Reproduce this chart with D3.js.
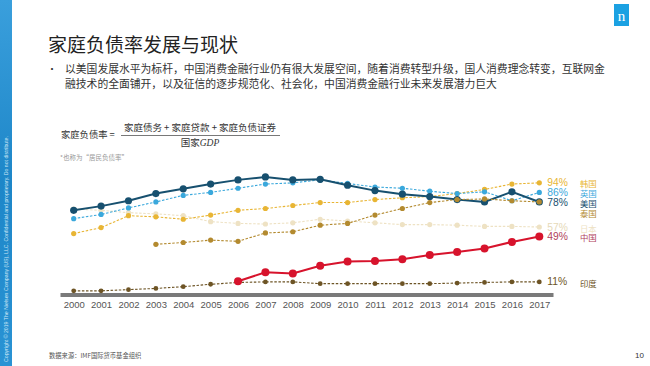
<!DOCTYPE html>
<html>
<head>
<meta charset="utf-8">
<script src="https://cdn.jsdelivr.net/npm/d3@7"></script>
<style>
  body { margin: 0; background: #fff; }
  svg { display: block; font-family: "Noto Sans CJK SC", "Liberation Sans", sans-serif; }
</style>
</head>
<body>
<svg width="650" height="366"></svg>
<script>
// years on the x axis
const years = d3.range(2000, 2018).map(String)

// household debt / GDP, %
const us = [71, 74.5, 79, 85, 89, 93, 96.5, 99, 96.5, 97, 92, 87.5, 84.5, 82.5, 80, 78, 86.5, 78]
const uk = [64, 67.5, 73, 78, 83.5, 86, 89.5, 93, 94, 96.5, 93.5, 90.5, 89.5, 87, 85, 86.5, 79, 86]
const korea = [51.5, 56.5, 66.5, 65.5, 63.5, 67, 71, 72.5, 75, 77.5, 77.5, 80, 81.5, 82.5, 85, 88.5, 93, 94]
const japan = [72, 71, 69, 68, 66.5, 61.5, 60, 59.5, 60.5, 63.5, 62, 60.5, 59, 59, 58.5, 57.5, 57.5, 57]
const thailand = [null, null, null, 42.5, 44, 46, 45, 52, 53, 58.5, 60, 67, 72.5, 77.5, 80, 80.5, 79, 78]
const china = [null, null, null, null, null, null, 11.5, 19, 18, 24.5, 28, 28.5, 30, 33.5, 36, 39, 44.5, 49]
const india = [3.5, 3.5, 4.5, 5.5, 7, 9, 10.5, 11, 11, 9.5, 9.5, 9.5, 9.5, 9.5, 10, 10.5, 11, 11]

const series = [
  { name: "日本", values: japan, color: "#eee2c4", solid: false, r: 2.6, label: "57%" },
  { name: "韩国", values: korea, color: "#e8b534", solid: false, r: 2.6, label: "94%" },
  { name: "英国", values: uk, color: "#3aa8dc", solid: false, r: 2.6, label: "86%" },
  { name: "美国", values: us, color: "#17506f", solid: true, r: 3.6, label: "78%" },
  { name: "泰国", values: thailand, color: "#b38a2f", solid: false, r: 2.6, label: "" },
  { name: "印度", values: india, color: "#6d5425", solid: false, r: 2.4, label: "11%" },
  { name: "中国", values: china, color: "#d7132c", solid: true, r: 4, label: "49%" },
]

const svg = d3.select("svg")

// left blue strip
const defs = svg.append("defs")
const grad = defs.append("linearGradient").attr("id", "strip")
  .attr("x1", 0).attr("y1", 0).attr("x2", 0).attr("y2", 1)
grad.append("stop").attr("offset", 0).attr("stop-color", "#3a9fdc")
grad.append("stop").attr("offset", 0.5).attr("stop-color", "#1d86c8")
grad.append("stop").attr("offset", 1).attr("stop-color", "#2a93d4")
svg.append("rect").attr("x", 0).attr("y", 0).attr("width", 12).attr("height", 366)
  .attr("fill", "url(#strip)")
svg.append("text")
  .attr("transform", "translate(8,362) rotate(-90)")
  .attr("font-size", 5.2)
  .attr("font-family", "Liberation Sans")
  .attr("fill", "#cfe8f7")
  .text("Copyright © 2019 The Nielsen Company (US), LLC. Confidential and proprietary. Do not distribute.")

// logo
svg.append("rect").attr("x", 614).attr("y", 4).attr("width", 15).attr("height", 22).attr("fill", "#1ba1e2")
svg.append("text").attr("x", 621.5).attr("y", 21).attr("text-anchor", "middle")
  .attr("font-size", 15).attr("font-family", "Liberation Serif").attr("fill", "#fff").text("n")

// title + bullet
svg.append("text").attr("x", 48).attr("y", 52).attr("font-size", 19).attr("fill", "#222")
  .text("家庭负债率发展与现状")
svg.append("text").attr("x", 47).attr("y", 73).attr("font-size", 10).attr("fill", "#333").text("•")
const bullet = svg.append("text").attr("font-size", 10.8).attr("fill", "#333")
bullet.append("tspan").attr("x", 65).attr("y", 73)
  .text("以美国发展水平为标杆，中国消费金融行业仍有很大发展空间，随着消费转型升级，国人消费理念转变，互联网金")
bullet.append("tspan").attr("x", 65).attr("y", 88)
  .text("融技术的全面铺开，以及征信的逐步规范化、社会化，中国消费金融行业未来发展潜力巨大")

// formula
svg.append("text").attr("x", 61).attr("y", 138).attr("font-size", 9.3).attr("fill", "#333").text("家庭负债率 =")
svg.append("text").attr("x", 200).attr("y", 131).attr("text-anchor", "middle").attr("font-size", 9.5)
  .attr("fill", "#333").text("家庭债务 + 家庭贷款 + 家庭负债证券")
svg.append("line").attr("x1", 121).attr("x2", 280).attr("y1", 135.5).attr("y2", 135.5)
  .attr("stroke", "#555").attr("stroke-width", 0.8)
const den = svg.append("text").attr("x", 200).attr("y", 146).attr("text-anchor", "middle")
  .attr("font-size", 9.5).attr("fill", "#333")
den.append("tspan").text("国家")
den.append("tspan").attr("font-style", "italic").attr("font-family", "Liberation Serif").text("GDP")
svg.append("text").attr("x", 60).attr("y", 160).attr("font-size", 6.5).attr("fill", "#999")
  .text("*也称为“居民负债率”")

// scales
const x = d3.scalePoint().domain(years).range([60, 553]).padding(0.5)
const y = d3.scaleLinear().domain([0, 100]).range([295, 175.7])

const xAxis = svg.append("g")
  .attr("transform", "translate(0,294.5)")
  .call(d3.axisBottom(x).tickSize(0).tickPadding(7))
xAxis.select(".domain").attr("stroke", "#7a7a7a").attr("stroke-width", 4)
xAxis.selectAll("text").attr("font-size", 9.5).attr("font-family", "Liberation Sans").attr("fill", "#555")

const line = d3.line()
  .defined(d => d != null)
  .x((d, i) => x(years[i]))
  .y(d => y(d))

const groups = svg.append("g").selectAll("g").data(series).join("g")

groups.append("path")
  .attr("d", d => line(d.values))
  .attr("fill", "none")
  .attr("stroke", d => d.color)
  .attr("stroke-width", d => d.solid ? 2 : 1.1)
  .attr("stroke-dasharray", d => d.solid ? null : "2.5,1.6")

groups.selectAll("circle")
  .data(d => d.values.map((v, i) => ({ v, i, s: d })).filter(p => p.v != null))
  .join("circle")
  .attr("cx", p => x(years[p.i]))
  .attr("cy", p => y(p.v))
  .attr("r", p => p.s.r)
  .attr("fill", p => p.s.color)

// end value labels
groups.filter(d => d.label).append("text")
  .attr("x", x("2017") + 8)
  .attr("y", d => y(d.values[d.values.length - 1]))
  .attr("dy", "0.35em")
  .attr("font-size", 10.3)
  .attr("font-family", "Liberation Sans")
  .attr("fill", d => d.name === "日本" ? "#e6d9b8" : d.name === "中国" ? "#b0415a" : d.color)
  .text(d => d.label)

// country legend on the right
const legendY = { "韩国": 184.5, "英国": 194.5, "美国": 204.5, "泰国": 214.5 }
svg.append("g").selectAll("text").data(series).join("text")
  .attr("x", 580)
  .attr("y", d => legendY[d.name] != null ? legendY[d.name] : y(d.values[d.values.length - 1]) + 2)
  .attr("dy", "0.35em")
  .attr("font-size", 8.4)
  .attr("fill", d => d.name === "日本" ? "#eee2c4" : d.name === "中国" ? "#b0415a" : d.color)
  .text(d => d.name)

// footer
svg.append("text").attr("x", 49).attr("y", 358).attr("font-size", 6.3).attr("fill", "#555")
  .text("数据来源：IMF国际货币基金组织")
svg.append("text").attr("x", 644).attr("y", 358).attr("text-anchor", "end").attr("font-size", 8)
  .attr("font-family", "Liberation Sans").attr("fill", "#333").text("10")
</script>
</body>
</html>
